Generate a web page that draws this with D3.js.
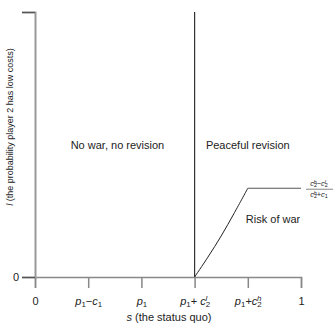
<!DOCTYPE html>
<html>
<head>
<meta charset="utf-8">
<script src="https://cdn.jsdelivr.net/npm/d3@7"></script>
<style>
  body { margin: 0; background: #fff; }
  text { font-family: "Liberation Sans", Arial, sans-serif; fill: #222; }
</style>
</head>
<body>
<div id="chart"></div>
<script>
// x ticks (s values) and their labels, as [text, style] pieces
const sTicks = [0, 0.2, 0.4, 0.6, 0.8, 1];
const sTickLabels = [
  [['0', 'n']],
  [['p', 'i'], ['1', 'sub'], ['\u2212', 'n'], ['c', 'i'], ['1', 'sub']],
  [['p', 'i'], ['1', 'sub']],
  [['p', 'i'], ['1', 'sub'], ['+ ', 'n'], ['c', 'i'], ['2', 'sub'], ['l', 'sup']],
  [['p', 'i'], ['1', 'sub'], ['+', 'n'], ['c', 'i'], ['2', 'sub'], ['h', 'sup']],
  [['1', 'n']]
];
const lTicks = [0, 1];
const lTickLabels = ['0', ''];

// boundary between "peaceful revision" and "risk of war"
const curveS = [0.6, 0.65, 0.7, 0.75, 0.8, 1];
const curveL = [0, 0.075, 0.155, 0.243, 0.335, 0.335];

// divider between "no war" and "peaceful revision"
const dividerS = 0.6;

const regionNames = ['No war, no revision', 'Peaceful revision', 'Risk of war'];
const regionS = [0.31, 0.8, 0.895];
const regionL = [0.5, 0.5, 0.22];

const width = 333, height = 323;
const margin = {top: 12, right: 32, bottom: 46, left: 35};

const svg = d3.select('#chart').append('svg')
    .attr('width', width)
    .attr('height', height);

const x = d3.scaleLinear().domain([0, 1]).range([margin.left, width - margin.right]);
const y = d3.scaleLinear().domain([0, 1]).range([height - margin.bottom, margin.top]);

function addPieces(textSel, pieces, size) {
  pieces.forEach(p => {
    const ts = textSel.append('tspan').text(p[0]);
    if (p[1] === 'i') ts.attr('font-style', 'italic');
    if (p[1] === 'sub') ts.attr('font-size', size * 0.72).attr('baseline-shift', '-25%');
    if (p[1] === 'sup') ts.attr('font-size', size * 0.72).attr('font-style', 'italic')
        .attr('baseline-shift', '45%').attr('dx', -size * 0.42);
  });
}

// x axis
const xAxis = svg.append('g')
    .attr('transform', `translate(0,${y(0)})`)
    .call(d3.axisBottom(x).tickValues(sTicks).tickSize(11).tickFormat(''));
xAxis.select('.domain').attr('stroke', '#888').attr('stroke-width', 1.5);
xAxis.selectAll('.tick line').attr('stroke', '#888').attr('stroke-width', 1.5);
xAxis.selectAll('.tick').each(function(d, i) {
  const t = d3.select(this).append('text')
      .attr('y', 28)
      .attr('text-anchor', 'middle')
      .attr('font-size', 11);
  addPieces(t, sTickLabels[i], 11);
});

// y axis
const yAxis = svg.append('g')
    .attr('transform', `translate(${x(0)},0)`)
    .call(d3.axisLeft(y).tickValues(lTicks).tickSize(13).tickPadding(3)
      .tickFormat((d, i) => lTickLabels[i]));
yAxis.select('.domain').attr('stroke', '#999').attr('stroke-width', 2);
yAxis.selectAll('.tick line').attr('stroke', '#555').attr('stroke-width', 1.2);
yAxis.selectAll('.tick text').attr('font-size', 11)
    .style('font-family', '"Liberation Sans", Arial, sans-serif').attr('fill', '#222');

// axis titles
const xt = svg.append('text')
    .attr('x', (x(0) + x(1)) / 2 + 1)
    .attr('y', height - 2)
    .attr('text-anchor', 'middle')
    .attr('font-size', 11);
xt.append('tspan').attr('font-style', 'italic').text('s');
xt.append('tspan').text(' (the status quo)');

const yt = svg.append('text')
    .attr('transform', `translate(13,127) rotate(-90)`)
    .attr('text-anchor', 'middle')
    .attr('font-size', 9);
yt.append('tspan').attr('font-style', 'italic').text('l');
yt.append('tspan').text(' (the probability player 2 has low costs)');

// vertical divider
svg.append('line')
    .attr('x1', x(dividerS)).attr('x2', x(dividerS))
    .attr('y1', y(0)).attr('y2', y(1))
    .attr('stroke', '#333').attr('stroke-width', 1.2);

// curve + plateau
const pts = curveS.map((s, i) => [s, curveL[i]]);
svg.append('path')
    .datum(pts.slice(0, 5))
    .attr('d', d3.line().x(d => x(d[0])).y(d => y(d[1])).curve(d3.curveCatmullRom))
    .attr('fill', 'none').attr('stroke', '#222').attr('stroke-width', 1);
svg.append('path')
    .datum(pts.slice(4))
    .attr('d', d3.line().x(d => x(d[0])).y(d => y(d[1])))
    .attr('fill', 'none').attr('stroke', '#555').attr('stroke-width', 1.2);

// region labels
svg.selectAll('.region')
  .data(regionNames)
  .join('text')
    .attr('class', 'region')
    .attr('x', (d, i) => x(regionS[i]))
    .attr('y', (d, i) => y(regionL[i]) + 4)
    .attr('text-anchor', 'middle')
    .attr('font-size', 11)
    .text(d => d);

// fraction label for the plateau
const fx = x(1) + 18, fy = y(curveL[curveL.length - 1]) + 1;
const num = svg.append('text').attr('x', fx).attr('y', fy - 3)
    .attr('text-anchor', 'middle').attr('font-size', 7.5);
addPieces(num, [['c', 'i'], ['2', 'sub'], ['h', 'sup'], ['\u2212', 'n'], ['c', 'i'], ['2', 'sub'], ['l', 'sup']], 7.5);
svg.append('line')
    .attr('x1', fx - 13).attr('x2', fx + 16)
    .attr('y1', fy).attr('y2', fy)
    .attr('stroke', '#333').attr('stroke-width', 0.6);
const den = svg.append('text').attr('x', fx).attr('y', fy + 8)
    .attr('text-anchor', 'middle').attr('font-size', 7.5);
addPieces(den, [['c', 'i'], ['2', 'sub'], ['h', 'sup'], ['+', 'n'], ['c', 'i'], ['1', 'sub']], 7.5);
</script>
</body>
</html>
